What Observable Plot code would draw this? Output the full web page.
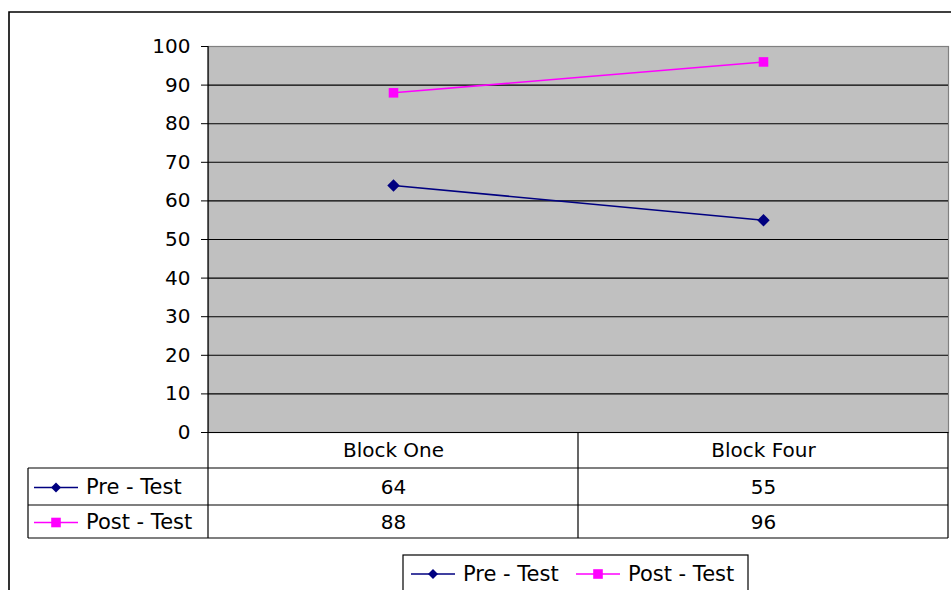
<!DOCTYPE html>
<html>
<head>
<meta charset="utf-8">
<script src="https://cdn.jsdelivr.net/npm/d3@7"></script>
<script src="https://cdn.jsdelivr.net/npm/@observablehq/plot@0.6"></script>
<style>
  html, body { margin: 0; padding: 0; background: #fff; }
  #chart { position: relative; width: 951px; height: 590px; overflow: hidden; background: #fff; }
</style>
</head>
<body>
<div id="chart"></div>
<script>
// Test scores per block
const blocks = ["Block One", "Block Four"];
const seriesNames = ["Pre - Test", "Post - Test"];
const preTest = [64, 55];
const postTest = [88, 96];
const yTicks = [0, 10, 20, 30, 40, 50, 60, 70, 80, 90, 100];

const seriesColors = ["#000080", "#FF00FF"];
const seriesSymbols = ["diamond2", "square"];
const seriesRadius = [5.6, 5.4];
const FONT = "'DejaVu Sans', 'Liberation Sans', Arial, sans-serif";

// long-format table built from the series arrays
const rows = [];
blocks.forEach((b, i) => {
  rows.push({series: seriesNames[0], block: b, value: preTest[i]});
  rows.push({series: seriesNames[1], block: b, value: postTest[i]});
});

const W = 951, H = 590;
const M = {top: 46, right: 3, bottom: 158, left: 208};

const plot = Plot.plot({
  width: W,
  height: H,
  marginTop: M.top,
  marginRight: M.right,
  marginBottom: M.bottom,
  marginLeft: M.left,
  style: {fontFamily: FONT, fontSize: "20px", background: "transparent", color: "#000"},
  x: {type: "point", domain: blocks, padding: 0.5, axis: null},
  y: {domain: [0, 100], axis: null},
  color: {domain: seriesNames, range: seriesColors},
  symbol: {domain: seriesNames, range: seriesSymbols},
  marks: [
    // grey plot area
    Plot.frame({fill: "#C0C0C0", stroke: "#808080", strokeWidth: 1.2}),
    Plot.ruleY(yTicks.filter(t => t > 0 && t < 100), {stroke: "#000", strokeWidth: 1.1}),
    Plot.ruleY([0], {stroke: "#000", strokeWidth: 1.2}),
    Plot.axisY(yTicks, {tickSize: 7, tickPadding: 11, tickFormat: d => String(d), stroke: "#000", label: null}),
    // series lines and markers
    Plot.line(rows, {x: "block", y: "value", z: "series", stroke: "series", strokeWidth: 1.6}),
    ...seriesNames.map((s, k) =>
      Plot.dot(rows, {filter: d => d.series === s, x: "block", y: "value",
        symbol: "series", fill: "series", r: seriesRadius[k], stroke: "none"})),
    // data table: category header and the value rows
    Plot.text(blocks, {x: d => d, frameAnchor: "bottom", lineAnchor: "middle", dy: 18}),
    Plot.text(rows, {filter: d => d.series === seriesNames[0], x: "block", text: d => String(d.value),
      frameAnchor: "bottom", lineAnchor: "middle", dy: 55}),
    Plot.text(rows, {filter: d => d.series === seriesNames[1], x: "block", text: d => String(d.value),
      frameAnchor: "bottom", lineAnchor: "middle", dy: 90})
  ]
});

document.getElementById("chart").appendChild(plot);

// grid lines of the data table, legend keys and the chart border
const svg = d3.select(plot);
const xs = plot.scale("x");
const left = M.left, right = W - M.right, base = H - M.bottom;
const rowEdges = [base, base + 36, base + 73, base + 106];
const labelLeft = 28;
const colSplit = (xs.apply(blocks[0]) + xs.apply(blocks[1])) / 2;

const g = svg.append("g").attr("stroke", "#000").attr("stroke-width", 1.2).attr("fill", "none");
g.append("line").attr("x1", left).attr("x2", left).attr("y1", M.top).attr("y2", rowEdges[3]);
[colSplit, right].forEach(x =>
  g.append("line").attr("x1", x).attr("x2", x).attr("y1", base).attr("y2", rowEdges[3]));
g.append("line").attr("x1", labelLeft).attr("x2", labelLeft).attr("y1", rowEdges[1]).attr("y2", rowEdges[3]);
rowEdges.slice(1).forEach(y =>
  g.append("line").attr("x1", labelLeft).attr("x2", right).attr("y1", y).attr("y2", y));

// marker outlines matching the plotted symbols
function markerPath(k) {
  if (k === 0) { const h = 5; return `M0,${-h}L${h},0L0,${h}L${-h},0Z`; }
  const s = 4.8; return `M${-s},${-s}H${s}V${s}H${-s}Z`;
}

function legendKey(parent, x0, y, k) {
  const color = seriesColors[k];
  parent.append("line").attr("x1", x0).attr("x2", x0 + 44).attr("y1", y).attr("y2", y)
    .attr("stroke", color).attr("stroke-width", 1.6);
  parent.append("path").attr("transform", `translate(${x0 + 22},${y})`)
    .attr("d", markerPath(k)).attr("fill", color);
  parent.append("text").attr("x", x0 + 52).attr("y", y).attr("dy", "0.32em")
    .attr("text-anchor", "start")
    .attr("fill", "#000").attr("font-family", FONT).attr("font-size", 21)
    .text(seriesNames[k]);
}

// row labels of the data table
const labels = svg.append("g");
legendKey(labels, 34, (rowEdges[1] + rowEdges[2]) / 2 + 1, 0);
legendKey(labels, 34, (rowEdges[2] + rowEdges[3]) / 2 + 1, 1);

// legend box below the table
const leg = svg.append("g");
leg.append("rect").attr("x", 403).attr("y", 555).attr("width", 345).attr("height", 60)
  .attr("fill", "#fff").attr("stroke", "#000").attr("stroke-width", 1.2);
legendKey(leg, 411, 574, 0);
legendKey(leg, 576, 574, 1);

// chart area border (runs off the right and bottom edges)
svg.append("path").attr("d", `M9,${H + 10}V12H${W + 10}`)
  .attr("fill", "none").attr("stroke", "#000").attr("stroke-width", 1.6);
</script>
</body>
</html>
